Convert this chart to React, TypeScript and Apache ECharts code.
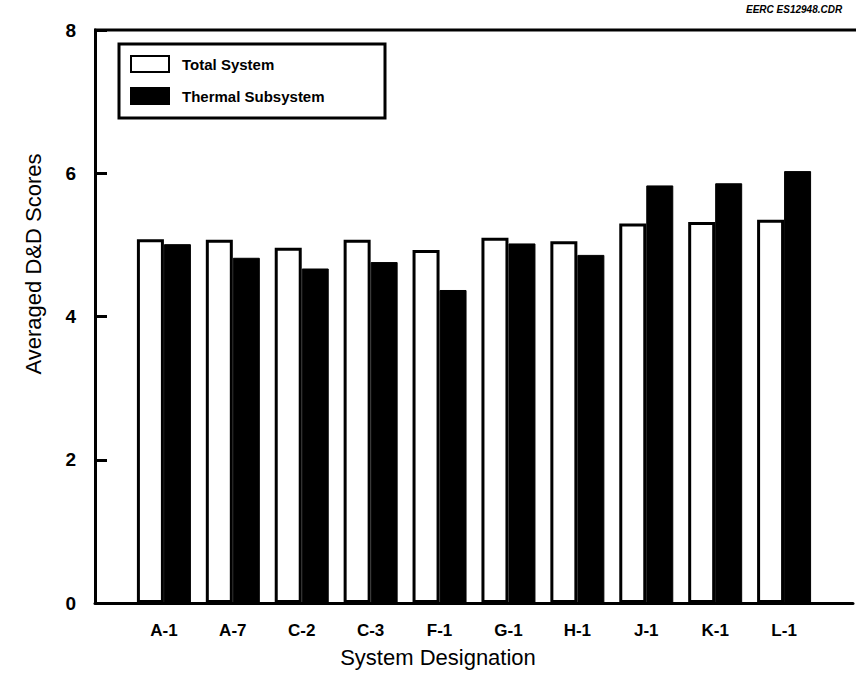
import React, { useEffect, useRef } from "react";
import * as echarts from "echarts";

const categories = ["", "A-1", "A-7", "C-2", "C-3", "F-1", "G-1", "H-1", "J-1", "K-1", "L-1", ""];
const totalSystem = [null, 5.08, 5.07, 4.96, 5.07, 4.93, 5.1, 5.05, 5.3, 5.32, 5.35, null];
const thermalSubsystem = [null, 5.01, 4.82, 4.67, 4.76, 4.37, 5.02, 4.86, 5.83, 5.86, 6.03, null];
const yTicks = [0, 2, 4, 6, 8];

export default function App() {
  const ref = useRef<HTMLDivElement>(null);
  useEffect(() => {
    if (!ref.current) return;
    const chart = echarts.init(ref.current, null, { renderer: "svg" });
    const font = "'Liberation Sans', Arial, sans-serif";
    chart.setOption({
      animation: false,
      backgroundColor: "#fff",
      grid: {
        left: 95,
        top: 30,
        width: 762,
        height: 573,
        show: false,
      },
      legend: {
        orient: "vertical",
        left: 130,
        top: 55,
        padding: 0,
        itemWidth: 38,
        itemHeight: 16,
        itemGap: 14,
        icon: "rect",
        textStyle: { fontFamily: font, fontWeight: "bold", fontSize: 15, color: "#000", padding: [0, 0, 0, 8] },
        data: ["Total System", "Thermal Subsystem"],
      },
      xAxis: {
        type: "category",
        data: categories,
        boundaryGap: false,
        axisLine: { lineStyle: { color: "#000", width: 3 } },
        axisTick: { show: false },
        axisLabel: {
          interval: 0,
          margin: 19,
          fontFamily: font,
          fontWeight: "bold",
          fontSize: 17,
          color: "#000",
        },
        splitLine: { show: false },
      },
      yAxis: {
        type: "value",
        min: yTicks[0],
        max: yTicks[yTicks.length - 1],
        interval: 2,
        axisLine: { show: true, lineStyle: { color: "#000", width: 3 } },
        axisTick: { show: true, inside: true, length: 12, lineStyle: { color: "#000", width: 3 } },
        axisLabel: {
          margin: 19,
          fontFamily: font,
          fontWeight: "bold",
          fontSize: 19,
          color: "#000",
        },
        splitLine: { show: false },
      },
      series: [
        {
          name: "Total System",
          type: "bar",
          data: totalSystem,
          barWidth: 27,
          barGap: "0%",
          itemStyle: { color: "#fff", borderColor: "#000", borderWidth: 3 },
        },
        {
          name: "Thermal Subsystem",
          type: "bar",
          data: thermalSubsystem,
          barWidth: 27,
          barGap: "0%",
          itemStyle: { color: "#000", borderColor: "#000", borderWidth: 1 },
        },
      ],
      graphic: [
        {
          type: "line",
          shape: { x1: 94, y1: 30, x2: 856, y2: 30 },
          style: { stroke: "#000", lineWidth: 3 },
          z: 10,
        },
        {
          type: "rect",
          shape: { x: 119, y: 44, width: 266, height: 74 },
          style: { fill: "transparent", stroke: "#000", lineWidth: 3 },
          z: 10,
        },
        {
          type: "text",
          x: 33,
          y: 264,
          rotation: Math.PI / 2,
          style: {
            text: "Averaged D&D Scores",
            font: `22px ${font}`,
            fill: "#000",
            align: "center",
            verticalAlign: "middle",
          },
        },
        {
          type: "text",
          x: 438,
          y: 657,
          style: {
            text: "System Designation",
            font: `22px ${font}`,
            fill: "#000",
            align: "center",
            verticalAlign: "middle",
          },
        },
        {
          type: "text",
          x: 746,
          y: 4,
          style: {
            text: "EERC ES12948.CDR",
            font: `italic bold 10px ${font}`,
            fill: "#000",
            align: "left",
            verticalAlign: "top",
          },
        },
      ],
    });
    return () => chart.dispose();
  }, []);
  return (
    <div
      ref={ref}
      style={{ position: "fixed", left: 0, top: 0, width: 856, height: 685, background: "#fff" }}
    />
  );
}
